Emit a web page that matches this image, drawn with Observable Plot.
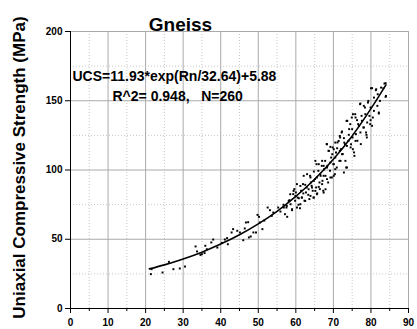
<!DOCTYPE html>
<html><head><meta charset="utf-8">
<script src="https://cdn.jsdelivr.net/npm/d3@7"></script>
<script src="https://cdn.jsdelivr.net/npm/@observablehq/plot@0.6"></script>
<style>
body{margin:0;background:#fff}
svg text{white-space:pre}
</style>
</head><body><div id="chart"></div>
<script>
// Rebound number (Rn) of each sample
const rn = [
21.4,21.6,24.5,26.2,27.4,29.1,30.5,33.3,33.7,34.6,
35,35.7,35.9,36.3,37.5,38,39.1,40.3,41.1,41.7,
41.9,42.9,43.3,44.4,45.1,46,46.7,47.3,46.4,47.5,
48,48.7,49.4,49.8,50.2,50.4,51.1,51.6,52.5,53.1,
53.6,54,55.3,55.9,56.7,57.1,57.7,57.5,58.3,58.6,
59,59.3,59.6,60,59.8,60.5,60.7,61.1,61.4,61.6,
62,61.9,62.3,62.7,62.9,63.3,63.6,63.8,64,64.2,
64.5,64.7,64.8,65.1,65.4,65.5,65.7,66,66.3,66.4,
66.6,66.9,67.1,67.3,67.5,67.8,67.9,68.2,68.4,68.6,
68.7,69.1,69.4,69.6,69.8,70,70.4,70.7,70.9,71.1,
71.6,71.8,72,72.2,72.5,73.1,73.4,73.5,74,74.2,
74.6,74.9,75.1,75.5,75.8,76,76.4,76.6,77.1,77.3,
77.5,78,78.4,78.7,78.9,79.3,79.6,79.8,80,80.5,
80.8,81.3,81.7,82.1,82.4,83.3,83.6,83.9,
80.3,81.4,82.7,83.9,84.0,81.8,77.2,78.1,79.2,79.9,
80.8,82.1,78.5,75.2,75.9,76.3,77.6,79.0,79.9,80.3,
78.1,73.7,74.5,76.8,75.0,74.1,77.2,78.8,72.3,71.7,
72.8,71.4,70.5,72.9,73.6,74.7,75.9,75.2,75.6,68.3,
69.2,70.1,71.0,68.8,69.7,70.5,71.7,72.3,73.2,71.9,
65.2,66.1,67.0,67.4,68.3,69.2,70.1,70.5,73.6,72.8,
62.1,63.0,63.9,64.8,65.6,66.5,67.4,68.3,69.2,70.1,
60.3,61.2,62.5,63.4,64.3,65.2,66.1,67.0,67.9,67.4,
65.6,63.9,64.8,59.4,58.5,59.9,60.8,61.6,62.5,61.2,
60.3,58.1,57.6,56.8,59.0
];
// Uniaxial compressive strength (MPa) of each sample
const ucs = [
24.8,28.4,26,33.7,28.4,28.9,30.3,44.8,41.2,38.7,
39.2,40,45.3,42.8,47.7,49.8,44,47.4,49.8,50.8,
46.4,54.9,57.3,56.1,54.9,49.3,62.1,62.3,57.8,51.3,
52,54.9,54.9,67.6,66.2,62.1,57.3,63.5,72.9,71,
66.9,69.3,72.9,70,74.9,68.1,66.2,72.9,78.2,75.3,
71,82.6,86.2,83.8,77.8,80.1,74.9,72.4,85,80.1,
83.1,89.8,77.8,83.8,87.4,82.1,79,95.8,91,88.6,
85,80.1,98.9,93.4,87.4,104.2,83.1,99.4,91,86.2,
95.8,103,92.2,85,100.6,106.6,95.8,118.7,103,91,
113.9,99.4,109,94.6,116.3,104.2,97,112.7,101.8,119.9,
106.6,123.5,115.1,127.1,111.5,118.7,101.8,135.5,121.1,129.5,
116.3,137.9,123.5,112.7,140.3,125.9,121.1,133.1,147.5,118.7,
139.1,130.7,145.1,127.1,123.5,149.9,139.1,133.1,159,137.9,
152.3,157.6,146.3,140.8,149.9,159,162.4,152.8,
159.1,158.3,159.5,162.7,153.5,154.7,148.0,146.3,148.7,145.1,
142.7,141.5,140.3,140.3,137.9,136.0,135.5,134.3,136.0,131.9,
130.7,135.5,133.1,131.9,129.5,125.4,127.1,125.4,127.8,124.6,
123.0,121.0,119.8,119.8,117.4,118.6,121.0,115.0,110.2,118.6,
116.7,115.0,115.7,113.8,111.4,109.0,113.8,111.4,106.6,106.6,
106.6,104.2,106.6,103.0,101.8,105.4,104.2,100.6,101.8,98.2,
95.8,97.0,94.6,92.2,94.6,97.0,95.8,93.4,94.6,95.8,
89.8,88.5,89.3,86.1,87.3,84.9,87.8,89.8,86.1,83.7,
82.5,81.3,80.1,84.9,82.5,81.3,79.6,80.1,77.7,75.3,
72.9,77.7,74.1,72.9,71.7
];
// Fitted curve
const fitRn  = [21, 25, 30, 35, 40, 45, 50, 55, 60, 65, 70, 75, 80, 84];
const fitUcs = [28.6, 31.5, 35.8, 40.7, 46.5, 53.2, 61.1, 70.2, 80.9, 93.3, 107.8, 124.6, 144.3, 161.5];

const xTicks = [0, 10, 20, 30, 40, 50, 60, 70, 80, 90];
const xMinor = [5, 15, 25, 35, 45, 55, 65, 75, 85];
const yTicks = [0, 50, 100, 150, 200];
const yMinor = [25, 75, 125, 175];

const title = "Gneiss";
const equation = "UCS=11.93*exp(Rn/32.64)+5.88";
const stats = "R^2= 0.948,   N=260";
const yLabel = "Uniaxial Compressive Strength (MPa)";

const points = rn.map((x, i) => ({x, y: ucs[i]}));
const fit = fitRn.map((x, i) => ({x, y: fitUcs[i]}));

const font = "'Liberation Sans', Arial, sans-serif";

const chart = Plot.plot({
  width: 417,
  height: 329,
  marginLeft: 70,
  marginRight: 9,
  marginTop: 31,
  marginBottom: 21,
  style: {fontFamily: font, fontSize: "10px", fontWeight: "bold", background: "#fff", color: "#000"},
  x: {domain: [0, 90], label: null},
  y: {domain: [0, 200], label: null},
  marks: [
    Plot.gridX(xMinor, {stroke: "#c8c8c8", strokeOpacity: 1, strokeDasharray: "1,2"}),
    Plot.gridY(yMinor, {stroke: "#c8c8c8", strokeOpacity: 1, strokeDasharray: "1,2"}),
    Plot.gridX(xTicks.filter(d => d > 0), {stroke: "#aaaaaa", strokeOpacity: 1}),
    Plot.gridY(yTicks.filter(d => d > 0), {stroke: "#aaaaaa", strokeOpacity: 1}),
    Plot.axisX({ticks: xMinor, tickSize: 3, fill: "none", label: null}),
    Plot.axisX({ticks: xTicks, tickSize: 5, tickPadding: 5, label: null, fontSize: 10, fontWeight: "bold"}),
    Plot.axisY({ticks: yTicks, tickSize: 5, tickPadding: 3, label: null, fontSize: 10, fontWeight: "bold"}),
    Plot.ruleX([0], {stroke: "#000"}),
    Plot.ruleY([0], {stroke: "#000"}),
    Plot.dot(points, {x: "x", y: "y", r: 1.1, symbol: "square", fill: "#000", stroke: null}),
    Plot.line(fit, {x: "x", y: "y", curve: "natural", stroke: "#000", strokeWidth: 1.6}),
    Plot.text([title], {frameAnchor: "top-left", dx: 110, dy: -7, text: d => d, textAnchor: "middle", lineAnchor: "middle", fontSize: 19, fontWeight: "bold"}),
    Plot.text([equation], {frameAnchor: "top-left", dx: 2, dy: 45, text: d => d, textAnchor: "start", lineAnchor: "middle", fontSize: 14, fontWeight: "bold"}),
    Plot.text([stats], {frameAnchor: "top-left", dx: 42, dy: 65, text: d => d, textAnchor: "start", lineAnchor: "middle", fontSize: 14, fontWeight: "bold"}),
    Plot.text([yLabel], {frameAnchor: "left", dx: -50.5, dy: -2.5, rotate: -90, text: d => d, textAnchor: "middle", lineAnchor: "middle", fontSize: 17, fontWeight: "bold"})
  ]
});
document.getElementById("chart").appendChild(chart);
</script>
</body></html>
